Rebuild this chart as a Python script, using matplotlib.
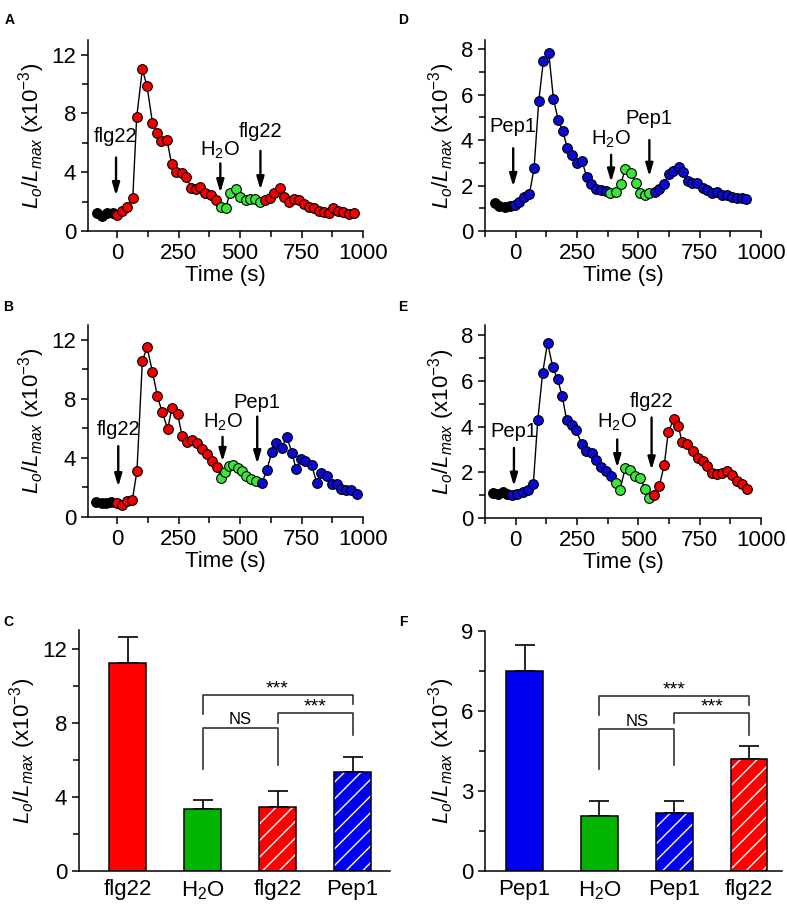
import numpy as np
import matplotlib.pyplot as plt
from matplotlib.ticker import MultipleLocator

plt.rcParams['font.family'] = 'Liberation Sans'
plt.rcParams['mathtext.fontset'] = 'custom'
plt.rcParams['mathtext.rm'] = 'Liberation Sans'
plt.rcParams['mathtext.it'] = 'Liberation Sans:italic'
plt.rcParams['hatch.linewidth'] = 1.0

# ---- time course data (time in s, Lo/Lmax x10^-3) ----
# A: flg22 -> H2O -> flg22
a_base_t = [-81, -61, -41, -16]
a_base_v = [1.25, 1.05, 1.2, 1.25]
a_first_t = [0, 20, 42, 64, 80, 103, 122, 144, 163, 178, 203, 222, 240, 264, 282, 301, 320, 339, 358, 382, 402]
a_first_v = [1.09, 1.36, 1.65, 2.26, 7.76, 11.0, 9.86, 7.38, 6.67, 6.1, 6.22, 4.55, 4.03, 3.98, 3.69, 2.94, 2.83, 3.0, 2.6, 2.44, 2.1]
a_h2o_t = [421, 443, 458, 482, 501, 524, 542, 562, 583]
a_h2o_v = [1.65, 1.56, 2.6, 2.83, 2.33, 2.1, 2.15, 2.15, 2.0]
a_second_t = [600, 621, 640, 661, 680, 699, 718, 738, 759, 779, 799, 820, 840, 860, 878, 898, 919, 942, 962]
a_second_v = [2.1, 2.24, 2.6, 2.9, 2.33, 2.0, 2.15, 2.1, 1.83, 1.65, 1.54, 1.36, 1.3, 1.24, 1.54, 1.36, 1.27, 1.15, 1.2]

# B: flg22 -> H2O -> Pep1
b_base_t = [-84, -63, -43, -25]
b_base_v = [1.0, 0.98, 0.98, 1.0]
b_first_t = [0, 20, 41, 62, 81, 103, 122, 144, 164, 184, 206, 223, 246, 265, 284, 305, 325, 345, 367, 386, 408]
b_first_v = [0.94, 0.82, 1.05, 1.14, 3.1, 10.57, 11.48, 9.84, 8.17, 7.08, 5.96, 7.37, 7.0, 5.46, 5.05, 5.23, 4.98, 4.63, 4.29, 3.79, 3.38]
b_h2o_t = [422, 440, 455, 472, 490, 507, 526, 546, 566]
b_h2o_v = [2.64, 3.02, 3.45, 3.49, 3.33, 3.1, 2.76, 2.58, 2.42]
b_second_t = [589, 609, 629, 647, 670, 690, 711, 728, 749, 766, 792, 812, 830, 853, 873, 893, 911, 931, 952, 974]
b_second_v = [2.31, 3.17, 4.4, 5.0, 4.7, 5.43, 4.36, 3.22, 3.9, 3.79, 3.49, 2.31, 2.99, 2.76, 2.26, 2.24, 1.9, 1.8, 1.8, 1.55]

# D: Pep1 -> H2O -> Pep1
d_base_t = [-84, -67, -43, -23]
d_base_v = [1.22, 1.1, 1.07, 1.1]
d_first_t = [-3, 15, 34, 56, 75, 94, 113, 135, 154, 174, 192, 211, 231, 250, 270, 289, 308, 327, 348, 367]
d_first_v = [1.15, 1.29, 1.48, 1.62, 2.76, 5.7, 7.49, 7.83, 5.8, 4.86, 4.4, 3.64, 3.33, 2.98, 3.1, 2.39, 2.07, 1.84, 1.8, 1.78]
d_h2o_t = [386, 409, 428, 447, 469, 490, 507, 527, 545]
d_h2o_v = [1.66, 1.7, 2.06, 2.73, 2.57, 2.13, 1.69, 1.59, 1.66]
d_second_t = [568, 586, 605, 624, 643, 664, 683, 701, 720, 740, 762, 781, 802, 819, 840, 860, 880, 901, 921, 939]
d_second_v = [1.73, 1.84, 2.07, 2.51, 2.66, 2.83, 2.61, 2.22, 2.1, 2.1, 1.88, 1.8, 1.69, 1.73, 1.59, 1.59, 1.51, 1.47, 1.44, 1.4]

# E: Pep1 -> H2O -> flg22
e_base_t = [-91, -71, -50, -37]
e_base_v = [1.09, 1.06, 1.12, 1.06]
e_first_t = [-14, 7, 28, 49, 72, 90, 110, 130, 151, 171, 190, 208, 231, 246, 269, 287, 310, 327, 348, 367, 388]
e_first_v = [1.02, 1.05, 1.12, 1.24, 1.5, 4.27, 6.36, 7.68, 6.61, 6.07, 5.33, 4.27, 4.09, 3.84, 3.26, 2.92, 2.85, 2.52, 2.22, 2.04, 1.85]
e_h2o_t = [409, 425, 447, 466, 487, 507, 529, 542]
e_h2o_v = [1.53, 1.24, 2.19, 2.09, 1.82, 1.75, 1.27, 0.87]
e_second_t = [565, 585, 606, 622, 645, 663, 679, 700, 721, 742, 762, 781, 802, 819, 840, 860, 881, 901, 921, 942]
e_second_v = [1.02, 1.38, 2.34, 3.77, 4.34, 4.02, 3.31, 3.24, 2.92, 2.63, 2.51, 2.29, 1.97, 1.94, 1.97, 2.04, 1.9, 1.6, 1.5, 1.28]

# ---- bar chart data ----
c_labels = ['flg22', 'H$_2$O', 'flg22', 'Pep1']
c_means = [11.2, 3.34, 3.43, 5.32]
c_upper = [12.63, 3.81, 4.3, 6.17]
f_labels = ['Pep1', 'H$_2$O', 'Pep1', 'flg22']
f_means = [7.5, 2.08, 2.16, 4.19]
f_upper = [8.48, 2.64, 2.64, 4.69]

RED = '#f20000'
GREEN = '#3be63b'
BLUE = '#0a0ad2'
BAR_RED = '#ff0000'
BAR_GREEN = '#00b400'
BAR_BLUE = '#0000f0'

YLABEL = r'$L_o/L_{max}$ (x10$^{-3}$)'
FS = 16


def style(ax):
    for s in ['top', 'right']:
        ax.spines[s].set_visible(False)
    for s in ['left', 'bottom']:
        ax.spines[s].set_linewidth(1.1)
    ax.tick_params(which='both', direction='out', width=1.1, labelsize=FS)
    ax.tick_params(which='major', length=5)
    ax.tick_params(which='minor', length=4)


def trace(ax, segs, colors, ymax, ystep, arrows):
    t_all = np.concatenate([s[0] for s in segs])
    v_all = np.concatenate([s[1] for s in segs])
    ax.plot(t_all, v_all, color='k', lw=1, zorder=2)
    for (t, v), c in zip(segs, colors):
        ax.plot(t, v, 'o', ms=7, mfc=c, mec='k', mew=0.8, ls='none', zorder=3)
    for label, t, y0, y1, yt in arrows:
        ax.annotate('', xy=(t, y1), xytext=(t, y0),
                    arrowprops=dict(arrowstyle='-|>,head_length=0.75,head_width=0.22',
                                    mutation_scale=10, lw=1.7, color='k',
                                    shrinkA=0, shrinkB=0))
        ax.text(t, yt, label, ha='center', va='center', fontsize=14.5)
    style(ax)
    ax.set_ylim(0, ymax)
    ax.yaxis.set_major_locator(MultipleLocator(ystep))
    ax.yaxis.set_minor_locator(MultipleLocator(ystep / 2))
    ax.xaxis.set_major_locator(MultipleLocator(250))
    ax.xaxis.set_minor_locator(MultipleLocator(125))
    ax.set_xlabel('Time (s)', fontsize=FS, labelpad=1)
    ax.set_ylabel(YLABEL, fontsize=FS, labelpad=3)


def bars(ax, labels, means, upper, colors, hatched, ymax, ystep, sig):
    x = np.arange(len(means))
    w = 0.49
    for xi, m, c, h in zip(x, means, colors, hatched):
        if h:
            ax.bar(xi, m, w, color=c, edgecolor='white', hatch='//', lw=0, zorder=2)
            ax.bar(xi, m, w, fill=False, edgecolor='k', lw=1.1, zorder=3)
        else:
            ax.bar(xi, m, w, color=c, edgecolor='k', lw=1.1, zorder=2)
    err = np.array(upper) - np.array(means)
    ax.errorbar(x, means, yerr=[np.zeros(len(x)), err], fmt='none', ecolor='k',
                elinewidth=1.2, capsize=7, capthick=1.2, zorder=1)
    for x0, x1, yl, yh, yr, txt, ty, tfs in sig:
        ax.plot([x0, x0, x1, x1], [yl, yh, yh, yr], color='#333333', lw=1.2)
        ax.text((x0 + x1) / 2, ty, txt, ha='center', va='center', fontsize=tfs)
    style(ax)
    ax.set_xticks(x)
    ax.set_xticklabels(labels)
    ax.tick_params(axis='x', length=0, pad=6)
    ax.set_ylim(0, ymax)
    ax.yaxis.set_major_locator(MultipleLocator(ystep))
    ax.yaxis.set_minor_locator(MultipleLocator(ystep / 2))
    ax.set_ylabel(YLABEL, fontsize=FS, labelpad=3)


W, H = 787, 907
fig = plt.figure(figsize=(W / 100, H / 100), dpi=100)


def box(l, r, t, b):
    return [l / W, 1 - b / H, (r - l) / W, (b - t) / H]


axA = fig.add_axes(box(88, 363, 40, 231))
axB = fig.add_axes(box(88, 363, 325, 517))
axD = fig.add_axes(box(485, 761, 40, 231))
axE = fig.add_axes(box(485, 761, 325, 518))
axC = fig.add_axes(box(79, 390, 630, 871))
axF = fig.add_axes(box(485, 782, 631, 871))

trace(axA, [(a_base_t, a_base_v), (a_first_t, a_first_v), (a_h2o_t, a_h2o_v), (a_second_t, a_second_v)],
      ['k', RED, GREEN, RED], 13, 4,
      [('flg22', -4, 5.0, 2.4, 6.4), ('H$_2$O', 420, 4.6, 2.6, 5.5), ('flg22', 583, 5.45, 2.8, 6.75)])
axA.set_xlim(-118, 1000)

trace(axB, [(b_base_t, b_base_v), (b_first_t, b_first_v), (b_h2o_t, b_h2o_v), (b_second_t, b_second_v)],
      ['k', RED, GREEN, BLUE], 13, 4,
      [('flg22', 5, 4.8, 2.05, 5.95), ('H$_2$O', 429, 5.43, 3.75, 6.4), ('Pep1', 570, 6.8, 3.6, 7.75)])
axB.set_xlim(-118, 1000)

trace(axD, [(d_base_t, d_base_v), (d_first_t, d_first_v), (d_h2o_t, d_h2o_v), (d_second_t, d_second_v)],
      ['k', BLUE, GREEN, BLUE], 8.4, 2,
      [('Pep1', -10, 3.64, 1.95, 4.6), ('H$_2$O', 389, 3.35, 2.15, 4.05), ('Pep1', 545, 4.0, 2.4, 4.95)])
axD.set_xlim(-125, 1000)

trace(axE, [(e_base_t, e_base_v), (e_first_t, e_first_v), (e_h2o_t, e_h2o_v), (e_second_t, e_second_v)],
      ['k', BLUE, GREEN, RED], 8.45, 2,
      [('Pep1', -7, 3.07, 1.39, 3.78), ('H$_2$O', 414, 3.44, 2.2, 4.2), ('flg22', 554, 4.4, 2.1, 5.1)])
axE.set_xlim(-125, 1000)

bars(axC, c_labels, c_means, c_upper, [BAR_RED, BAR_GREEN, BAR_RED, BAR_BLUE],
     [False, False, True, True], 13, 4,
     [(1, 3, 8.45, 9.49, 8.99, '***', 9.8, 14),
      (2, 3, 8.0, 8.54, 7.36, '***', 8.87, 14),
      (1, 2, 5.5, 7.69, 5.74, 'NS', 8.15, 12)])
axC.set_xlim(-0.65, 3.5)

bars(axF, f_labels, f_means, f_upper, [BAR_BLUE, BAR_GREEN, BAR_BLUE, BAR_RED],
     [False, False, True, True], 9, 3,
     [(1, 3, 5.85, 6.57, 6.22, '***', 6.8, 14),
      (2, 3, 5.54, 5.91, 5.1, '***', 6.15, 14),
      (1, 2, 3.81, 5.33, 3.98, 'NS', 5.62, 12)])
axF.set_xlim(-0.53, 3.44)

for lab, x, y in [('A', 10, 20), ('B', 8, 307), ('C', 8, 622), ('D', 403, 20), ('E', 403, 307), ('F', 403, 622)]:
    fig.text(x / W, 1 - y / H, lab, fontsize=10, fontweight='bold', ha='center', va='center')

fig.savefig('out.png', dpi=100)
